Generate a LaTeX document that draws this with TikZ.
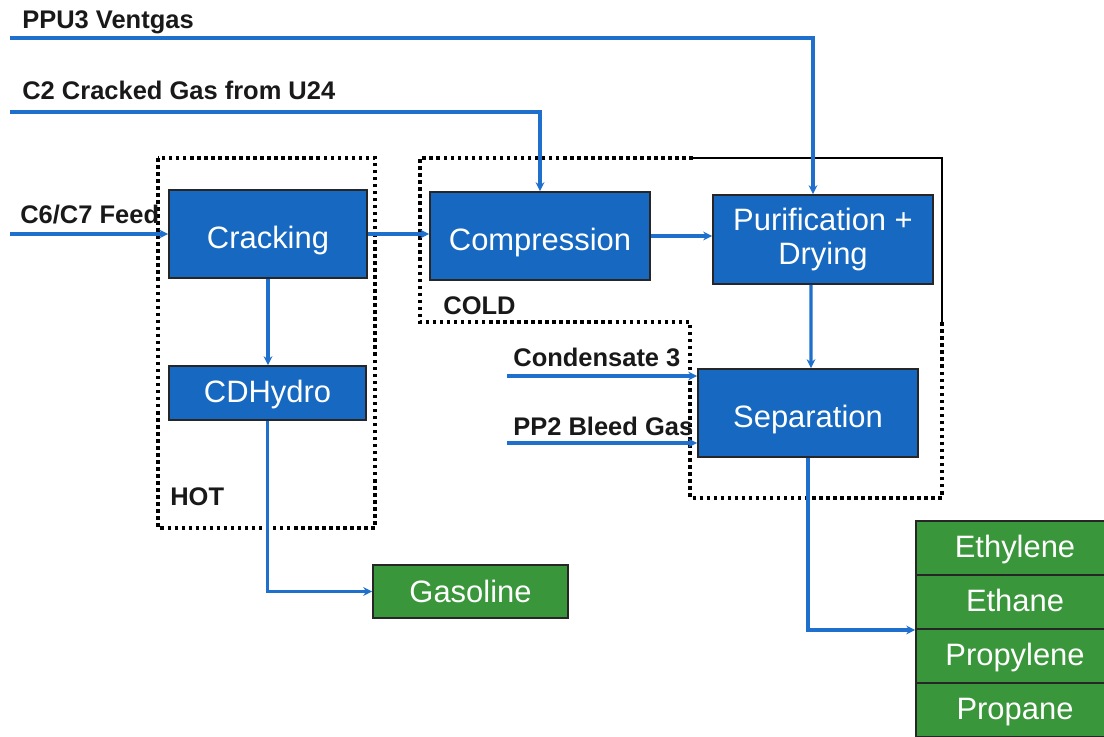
\documentclass[tikz,border=0pt]{standalone}
\usepackage{fontspec}
\setmainfont{Liberation Sans}
\usetikzlibrary{arrows.meta}

\definecolor{unitblue}{RGB}{22,104,192}
\definecolor{prodgreen}{RGB}{58,150,58}
\definecolor{flowblue}{RGB}{30,112,204}

\begin{document}
\begin{tikzpicture}[x=0.02cm, y=-0.02cm, >={Stealth[length=5pt,width=5pt]},
    unit/.style={draw=black!85, line width=1.1pt, fill=unitblue, text=white,
        font=\fontsize{17.6}{19.5}\selectfont, align=center, inner sep=0pt,
        text height=16pt, text depth=0pt},
    product/.style={unit, fill=prodgreen, text height=10.8pt},
    flow/.style={->, draw=flowblue, line width=1.9pt},
    stream/.style={font=\bfseries\fontsize{14.5}{16}\selectfont, text=black!90,
        anchor=base west, inner sep=0pt},
    zone/.style={line width=2pt, dash pattern=on 2pt off 2pt}]
    \useasboundingbox (0,0) rectangle (1104,736);
    \clip (0,0) rectangle (1104,736);

    % Zones
    \draw[zone] (158,158) rectangle (375,528);
    \draw[zone] (693,158) -- (420,158) -- (420,322) -- (690,322) -- (690,498) -- (942,498) -- (942,322);
    \draw[line width=1.3pt] (693,158) -- (942,158) -- (942,322);

    % Process units
    \node[unit, minimum width=3.96cm, minimum height=1.76cm] (crack) at (268,234) {Cracking};
    \node[unit, minimum width=3.94cm, minimum height=1.08cm, text height=10.8pt] (cdh) at (267.5,393) {CDHydro};
    \node[unit, minimum width=4.4cm, minimum height=1.76cm] (comp) at (540,236) {Compression};
    \node[unit, minimum width=4.4cm, minimum height=1.78cm, text height={}, text depth={}] (pur) at (823,239.5) {Purification +\\Drying};
    \node[unit, minimum width=4.4cm, minimum height=1.76cm] (sep) at (808,413) {Separation};

    % Products
    \node[product, minimum width=3.9cm, minimum height=1.06cm, text height=13pt] (gas) at (470.5,591.5) {Gasoline};
    \node[product, minimum width=3.96cm, minimum height=1.08cm] (ethylene) at (1015,548) {Ethylene};
    \node[product, minimum width=3.96cm, minimum height=1.08cm] (ethane) at (1015,602) {Ethane};
    \node[product, minimum width=3.96cm, minimum height=1.08cm] (propylene) at (1015,656) {Propylene};
    \node[product, minimum width=3.96cm, minimum height=1.08cm] (propane) at (1015,710) {Propane};

    % Stream labels
    \node[stream] (lppu) at (22,29) {PPU3 Ventgas};
    \node[stream] (lc2) at (22,100) {C2 Cracked Gas from U24};
    \node[stream] (lfeed) at (20,224) {C6/C7 Feed};
    \node[stream] (lcond) at (513,366) {Condensate 3};
    \node[stream] (lbleed) at (513,435) {PP2 Bleed Gas};
    \node[stream] (lhot) at (170,505) {HOT};
    \node[stream] (lcold) at (443,314) {COLD};

    % Feed ends
    \coordinate (ppuin) at (10,38);
    \coordinate (c2in) at (10,112);
    \coordinate (feedin) at (10,234);
    \coordinate (condin) at (507,376);
    \coordinate (bleedin) at (507,443);

    % Flows
    \draw[flow] (ppuin) -| ([xshift=-0.2cm]pur.north);
    \draw[flow] (c2in) -| (comp.north);
    \draw[flow] (feedin) -- (feedin -| crack.west);
    \draw[flow] (crack.east) -- (crack.east -| comp.west);
    \draw[flow] (comp.east) -- (comp.east -| pur.west);
    \draw[flow] (crack.south) -- (crack.south |- cdh.north);
    \draw[flow] ([xshift=-0.24cm]pur.south) -- ([xshift=0.06cm]sep.north);
    \draw[flow] (cdh.south) |- (gas.west);
    \draw[flow] (sep.south) |- (ethane.south west);
    \draw[flow] (condin) -- (condin -| sep.west);
    \draw[flow] (bleedin) -- (bleedin -| sep.west);
\end{tikzpicture}
\end{document}
